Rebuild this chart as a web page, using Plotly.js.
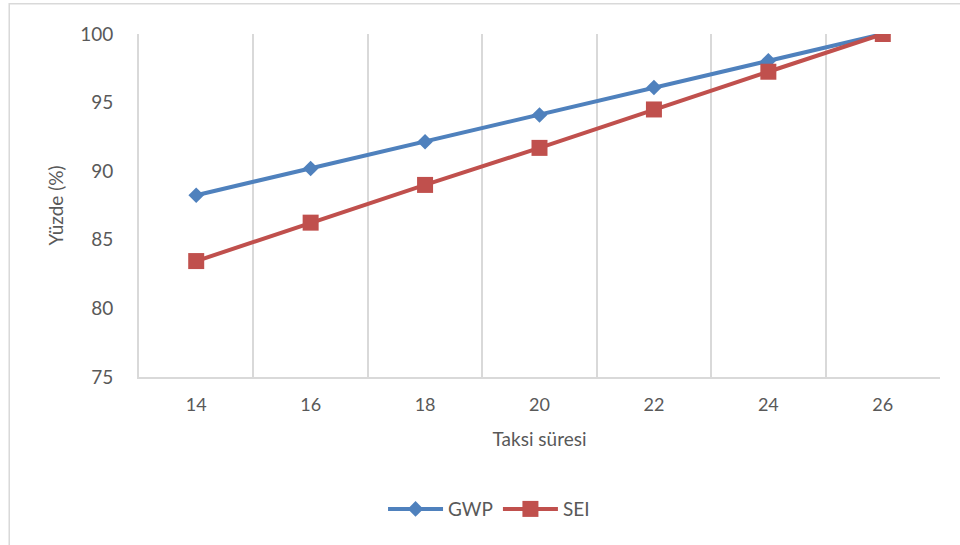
<!DOCTYPE html>
<html>
<head>
<meta charset="utf-8">
<script src="https://cdn.plot.ly/plotly-3.0.1.min.js"></script>
<style>
  html, body { margin: 0; padding: 0; background: #fff; }
  #chart { width: 960px; height: 545px; }
</style>
</head>
<body>
<div id="chart"></div>
<script>
// Taxi time categories and the two series (percent)
const categories = ["14", "16", "18", "20", "22", "24", "26"];
const gwpValues = [88.25, 90.2, 92.15, 94.1, 96.1, 98.05, 100];
const seiValues = [83.45, 86.25, 89.0, 91.7, 94.5, 97.25, 100];
const yTicks = [75, 80, 85, 90, 95, 100];

const textColor = "#595959";
const gridColor = "#d9d9d9";
const fontFamily = "Lato, 'Open Sans', sans-serif";

const traces = [
  {
    name: "GWP",
    x: categories,
    y: gwpValues,
    type: "scatter",
    mode: "lines+markers",
    line: { color: "#4F81BD", width: 4 },
    marker: { symbol: "diamond", size: 12, color: "#4F81BD" }
  },
  {
    name: "SEI",
    x: categories,
    y: seiValues,
    type: "scatter",
    mode: "lines+markers",
    line: { color: "#C0504D", width: 4 },
    marker: { symbol: "square", size: 16, color: "#C0504D" }
  }
];

const layout = {
  width: 960,
  height: 545,
  margin: { l: 139, r: 20, t: 34, b: 168 },
  paper_bgcolor: "#ffffff",
  plot_bgcolor: "#ffffff",
  font: { family: fontFamily, color: textColor, size: 18 },
  showlegend: true,
  legend: {
    orientation: "h",
    x: 0.437,
    xanchor: "center",
    y: -0.385,
    yanchor: "middle",
    itemwidth: 55,
    font: { size: 19, color: textColor }
  },
  xaxis: {
    type: "category",
    range: [-0.5, categories.length - 0.5],
    tickson: "boundaries",
    showgrid: true,
    gridcolor: gridColor,
    gridwidth: 2,
    showline: true,
    linecolor: gridColor,
    linewidth: 2,
    ticks: "",
    ticklabelstandoff: 10,
    tickfont: { size: 18, color: textColor },
    title: { text: "Taksi süresi", font: { size: 19, color: textColor }, standoff: 19 },
    zeroline: false
  },
  yaxis: {
    range: [75, 100],
    tickvals: yTicks,
    showgrid: false,
    showline: true,
    linecolor: gridColor,
    linewidth: 2,
    ticks: "",
    ticklabelstandoff: 20,
    tickfont: { size: 19, color: textColor },
    title: { text: "Yüzde (%)", font: { size: 19, color: textColor }, standoff: 11 },
    zeroline: false
  },
  shapes: [
    {
      // chart frame
      type: "rect",
      xref: "paper", yref: "paper",
      x0: -0.162, x1: 1.5, y0: -1.0, y1: 1.088,
      line: { color: gridColor, width: 1.5 },
      fillcolor: "rgba(0,0,0,0)",
      layer: "below"
    }
  ]
};

Plotly.newPlot("chart", traces, layout, { displayModeBar: false, staticPlot: true });
</script>
</body>
</html>
